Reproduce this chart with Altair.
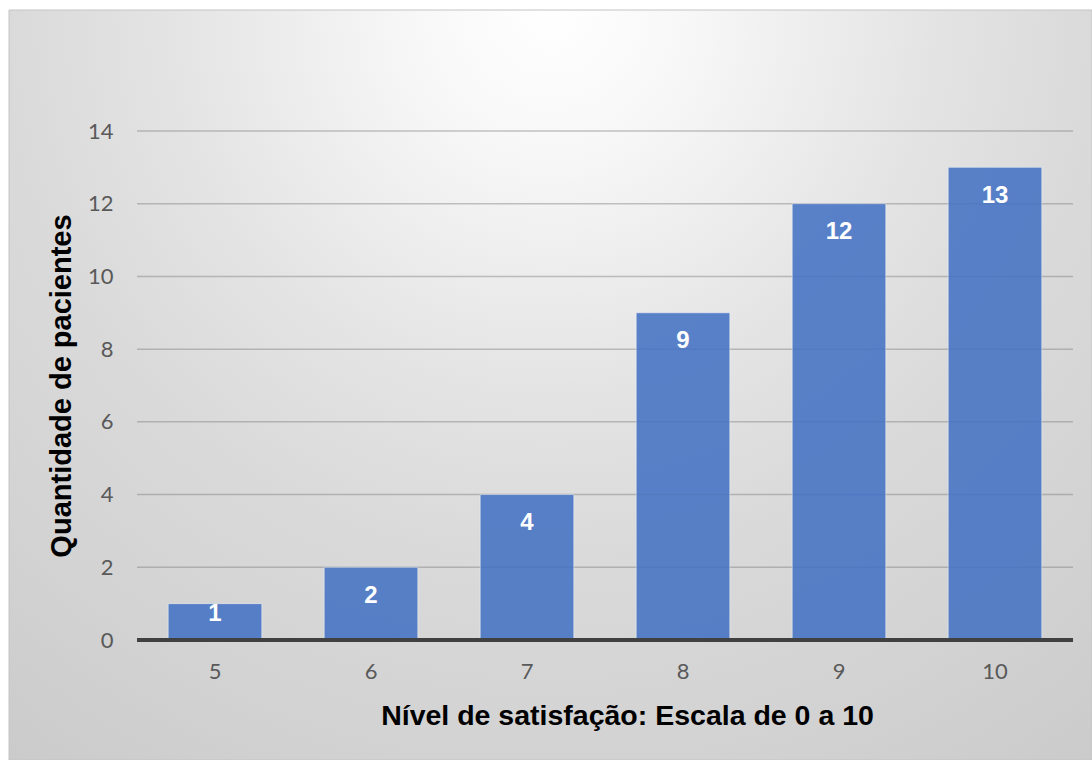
import altair as alt
import pandas as pd

# ---- data ----
niveis = ["5", "6", "7", "8", "9", "10"]
pacientes = [1, 2, 4, 9, 12, 13]
y_ticks = [0, 2, 4, 6, 8, 10, 12, 14]

df = pd.DataFrame({"nivel": niveis, "pacientes": pacientes})
grid_df = pd.DataFrame({"pacientes": y_ticks[1:]})
zero_df = pd.DataFrame({"pacientes": [0]})
bg_df = pd.DataFrame({"k": [0]})

W, H = 936, 509

gradient = {
    "gradient": "radial",
    "x1": 0.5, "y1": 0.154, "r1": 0,
    "x2": 0.5, "y2": 0.154, "r2": 1,
    "stops": [
        {"offset": 0.0, "color": "#ffffff"},
        {"offset": 0.12, "color": "#f8f8f8"},
        {"offset": 0.35, "color": "#e4e4e4"},
        {"offset": 0.5, "color": "#dadada"},
        {"offset": 0.7, "color": "#d2d2d2"},
        {"offset": 0.85, "color": "#cbcbcb"},
        {"offset": 1.0, "color": "#c6c6c6"},
    ],
}

y_scale = alt.Scale(domain=[0, 14], nice=False, zero=True)
y_axis = alt.Axis(
    values=y_ticks, title="Quantidade de pacientes", grid=False, ticks=False,
    domain=False, labelFont="Lato", labelFontSize=22, labelColor="#595959",
    labelPadding=24, titleFont="Liberation Sans", titleFontSize=29,
    titleFontWeight="bold", titleColor="#000000", titlePadding=11, zindex=1,
)


def Y(field):
    return alt.Y(f"{field}:Q", scale=y_scale, axis=y_axis)


x_enc = alt.X(
    "nivel:N", sort=niveis,
    scale=alt.Scale(paddingInner=0.4, paddingOuter=0.2),
    axis=alt.Axis(
        title="Nível de satisfação: Escala de 0 a 10", labelAngle=0, ticks=False,
        domain=False, grid=False, labelFont="Lato", labelFontSize=22,
        labelColor="#595959", labelPadding=21, titleFont="Liberation Sans",
        titleFontSize=28.5, titleFontWeight="bold", titleColor="#000000",
        titlePadding=19, titleX=490, titleAlign="center", zindex=1,
    ),
)

bg = alt.Chart(bg_df).mark_rect(
    fill=gradient, stroke="#c4c4c4", strokeWidth=1
).encode(
    x=alt.value(-128), x2=alt.value(955), y=alt.value(-121), y2=alt.value(629)
)

grid = alt.Chart(grid_df).mark_rule(
    color="#7f7f7f", opacity=0.45, strokeWidth=1.5
).encode(y=Y("pacientes"))

bars = alt.Chart(df).mark_bar(
    color="#4472C4", opacity=0.87, stroke="#ffffff", strokeOpacity=0.5, strokeWidth=1
).encode(x=x_enc, y=Y("pacientes"))

zero = alt.Chart(zero_df).mark_rule(color="#404040", strokeWidth=4).encode(
    y=Y("pacientes")
)

labels = alt.Chart(df).transform_calculate(
    label_y="datum.pacientes < 1.5 ? datum.pacientes - 0.28 : datum.pacientes - 0.78"
).mark_text(
    font="Liberation Sans", fontSize=24, fontWeight="bold", color="#ffffff",
    baseline="middle", align="center",
).encode(x=x_enc, y=Y("label_y"), text="pacientes:Q")

chart = alt.layer(bg, grid, bars, zero, labels).properties(
    width=W, height=H,
    autosize=alt.AutoSizeParams(type="none"),
    padding={"left": 137, "top": 131, "right": 19, "bottom": 120},
).configure_view(stroke=None)

chart.save("out.html", embed_options={"renderer": "svg", "actions": False})
